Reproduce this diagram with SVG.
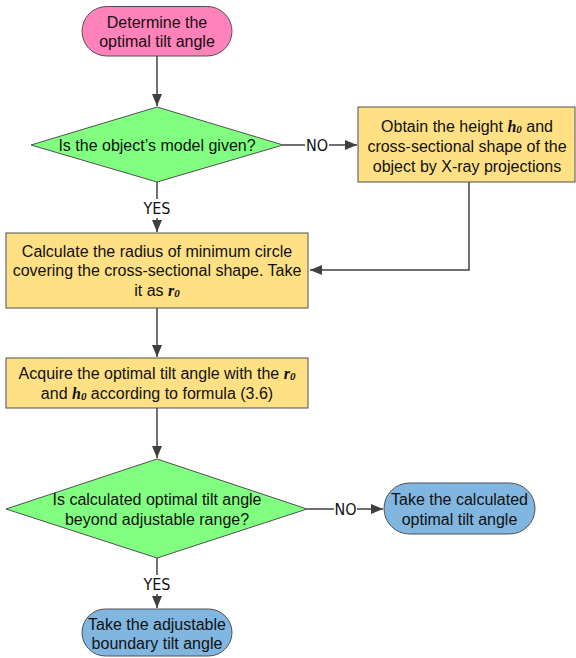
<svg xmlns="http://www.w3.org/2000/svg" width="576" height="658" viewBox="0 0 576 658">
<style>
.n{stroke:#505050;stroke-width:1}
.term1{fill:#FF82BA}
.dec{fill:#80FF80}
.proc{fill:#FFE085}
.term2{fill:#80B6E0}
text{font-family:"Liberation Sans",Arial,sans-serif;font-size:16px;fill:#111;text-anchor:middle;dominant-baseline:central}
.lbl{font-size:16px;font-family:"DejaVu Sans Condensed","Liberation Sans Narrow",sans-serif}
.m{font-family:"Liberation Serif","Times New Roman",serif;font-weight:bold;font-style:italic}
.s{font-size:11px}
.c{fill:none;stroke:#404040;stroke-width:1.5}
</style>
<defs>
<marker id="ah" viewBox="0 0 12 10" refX="12" refY="5" markerWidth="12" markerHeight="10" orient="auto" markerUnits="userSpaceOnUse">
<path d="M0,0 L12,5 L0,10 z" fill="#404040"/>
</marker>
</defs>
<g id="connectors">
<line class="c" x1="157" y1="56" x2="157" y2="106" marker-end="url(#ah)"/>
<line class="c" x1="283" y1="145" x2="305" y2="145"/>
<line class="c" x1="329" y1="145" x2="357" y2="145" marker-end="url(#ah)"/>
<text class="lbl" x="317" y="145">NO</text>
<line class="c" x1="157" y1="182" x2="157" y2="199"/>
<line class="c" x1="157" y1="218" x2="157" y2="232" marker-end="url(#ah)"/>
<text class="lbl" x="157" y="208">YES</text>
<polyline class="c" points="469,182 469,270 310,270" marker-end="url(#ah)"/>
<line class="c" x1="157" y1="308" x2="157" y2="357" marker-end="url(#ah)"/>
<line class="c" x1="157" y1="408" x2="157" y2="458" marker-end="url(#ah)"/>
<line class="c" x1="307" y1="509" x2="334" y2="509"/>
<line class="c" x1="357" y1="509" x2="383" y2="509" marker-end="url(#ah)"/>
<text class="lbl" x="345.5" y="509">NO</text>
<line class="c" x1="157" y1="558" x2="157" y2="575"/>
<line class="c" x1="157" y1="594" x2="157" y2="608" marker-end="url(#ah)"/>
<text class="lbl" x="157" y="584">YES</text>
</g>
<g id="start">
<rect class="n term1" x="82" y="6.5" width="150" height="49.5" rx="24.75"/>
<text x="157" y="22">Determine the</text>
<text x="157" y="41">optimal tilt angle</text>
</g>
<g id="decision1">
<polygon class="n dec" points="157,107 283,145 157,182 31,145"/>
<text x="157" y="145">Is the object’s model given?</text>
</g>
<g id="obtain">
<rect class="n proc" x="358" y="107" width="217" height="75"/>
<text x="467" y="126">Obtain the height <tspan class="m">h</tspan><tspan class="m s" dy="3">0</tspan><tspan dy="-3"> and</tspan></text>
<text x="467" y="146">cross-sectional shape of the</text>
<text x="467" y="166">object by X-ray projections</text>
</g>
<g id="calculate">
<rect class="n proc" x="6" y="233" width="302" height="75"/>
<text x="157" y="251">Calculate the radius of minimum circle</text>
<text x="157" y="270">covering the cross-sectional shape. Take</text>
<text x="157" y="290">it as <tspan class="m">r</tspan><tspan class="m s" dy="3">0</tspan></text>
</g>
<g id="acquire">
<rect class="n proc" x="6" y="358" width="302" height="50"/>
<text x="157" y="373">Acquire the optimal tilt angle with the  <tspan class="m">r</tspan><tspan class="m s" dy="3">0</tspan></text>
<text x="157" y="393">and <tspan class="m">h</tspan><tspan class="m s" dy="3">0</tspan><tspan dy="-3"> according to formula (3.6)</tspan></text>
</g>
<g id="decision2">
<polygon class="n dec" points="157,459 307,509 157,558 6,509"/>
<text x="157" y="499">Is calculated optimal tilt angle</text>
<text x="157" y="519">beyond adjustable range?</text>
</g>
<g id="take-calculated">
<rect class="n term2" x="384" y="483" width="151" height="51" rx="25.5"/>
<text x="459.5" y="499">Take the calculated</text>
<text x="459.5" y="519">optimal tilt angle</text>
</g>
<g id="take-boundary">
<rect class="n term2" x="82" y="609" width="150" height="47" rx="23.5"/>
<text x="157" y="624">Take the adjustable</text>
<text x="157" y="643">boundary tilt angle</text>
</g>
</svg>
